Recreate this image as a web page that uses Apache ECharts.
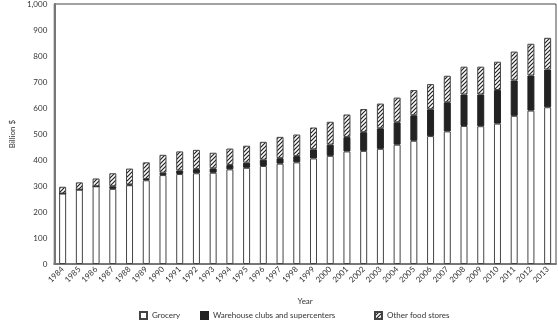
<!DOCTYPE html>
<html><head><meta charset="utf-8">
<script src="https://cdn.jsdelivr.net/npm/echarts@6/dist/echarts.min.js"></script>
<style>html,body{margin:0;padding:0;background:#fff}#c{width:558px;height:322px}</style>
</head><body><div id="c"></div>
<script>
var years = ['1984','1985','1986','1987','1988','1989','1990','1991','1992','1993','1994','1995','1996','1997','1998','1999','2000','2001','2002','2003','2004','2005','2006','2007','2008','2009','2010','2011','2012','2013'];
var grocery = [271,286,299,289,303,322,342,346,349,351,364,370,377,386,391,406,416,433,435,443,459,474,492,510,531,530,540,570,590,603];
var warehouse = [0,0,0,10,3,5,9,14,16,17,17,20,24,21,24,35,43,55,72,79,86,98,103,112,121,122,129,136,135,145];
var other = [26,28,30,50,61,64,69,73,74,60,63,65,69,82,83,84,88,87,89,95,95,97,97,102,107,107,109,111,122,122];
var yTicks = [0,100,200,300,400,500,600,700,800,900,1000];

function hatch(){
  var c = document.createElement('canvas'); c.width = 4; c.height = 4;
  var g = c.getContext('2d');
  g.fillStyle = '#fff'; g.fillRect(0,0,4,4);
  g.strokeStyle = '#222'; g.lineWidth = 1.2;
  g.beginPath(); g.moveTo(-1,5); g.lineTo(5,-1); g.stroke();
  g.beginPath(); g.moveTo(-1,1); g.lineTo(1,-1); g.stroke();
  g.beginPath(); g.moveTo(3,5); g.lineTo(5,3); g.stroke();
  return c;
}
var font = 'Lato';
var chart = echarts.init(document.getElementById('c'));
var bw = 7;
var legendBase = {top: 311, padding: 0, itemWidth: 7, itemHeight: 7, icon: 'rect', textStyle: {fontFamily: font, fontSize: 8, color: '#333'}, itemGap: 5};
chart.setOption({
  animation: false,
  grid: {left: 37, right: 2, top: 3, bottom: 58, show: true, borderColor: '#444', borderWidth: 1},
  legend: [
    Object.assign({left: 139, data: ['Grocery']}, legendBase),
    Object.assign({left: 200, data: ['Warehouse clubs and supercenters']}, legendBase),
    Object.assign({left: 374, data: ['Other food stores']}, legendBase)
  ],
  xAxis: {
    type: 'category', data: years,
    name: 'Year', nameLocation: 'middle', nameGap: 33,
    nameTextStyle: {fontFamily: font, fontSize: 8, color: '#333'},
    axisLine: {lineStyle: {color: '#777', width: 2}},
    axisTick: {show: false},
    axisLabel: {rotate: 45, fontFamily: font, fontSize: 8, color: '#333', margin: 4, interval: 0}
  },
  yAxis: {
    type: 'value', min: yTicks[0], max: yTicks[yTicks.length-1], interval: 100,
    name: 'Billion $', nameLocation: 'middle', nameGap: 29,
    nameTextStyle: {fontFamily: font, fontSize: 8, color: '#333'},
    axisLine: {show: true, lineStyle: {color: '#777', width: 2}},
    axisTick: {show: false},
    splitLine: {show: false},
    axisLabel: {fontFamily: font, fontSize: 8, color: '#333', margin: 7,
      formatter: function(v){ return v >= 1000 ? '1,000' : String(v); }}
  },
  series: [
    {name: 'Grocery', type: 'bar', stack: 's', data: grocery, barWidth: bw,
     itemStyle: {color: '#fff', borderColor: '#444', borderWidth: 1}},
    {name: 'Warehouse clubs and supercenters', type: 'bar', stack: 's', data: warehouse, barWidth: bw,
     itemStyle: {color: '#222', borderColor: '#222', borderWidth: 1}},
    {name: 'Other food stores', type: 'bar', stack: 's', data: other, barWidth: bw,
     itemStyle: {color: {image: hatch(), repeat: 'repeat'}, borderColor: '#444', borderWidth: 1}}
  ]
});
</script></body></html>
